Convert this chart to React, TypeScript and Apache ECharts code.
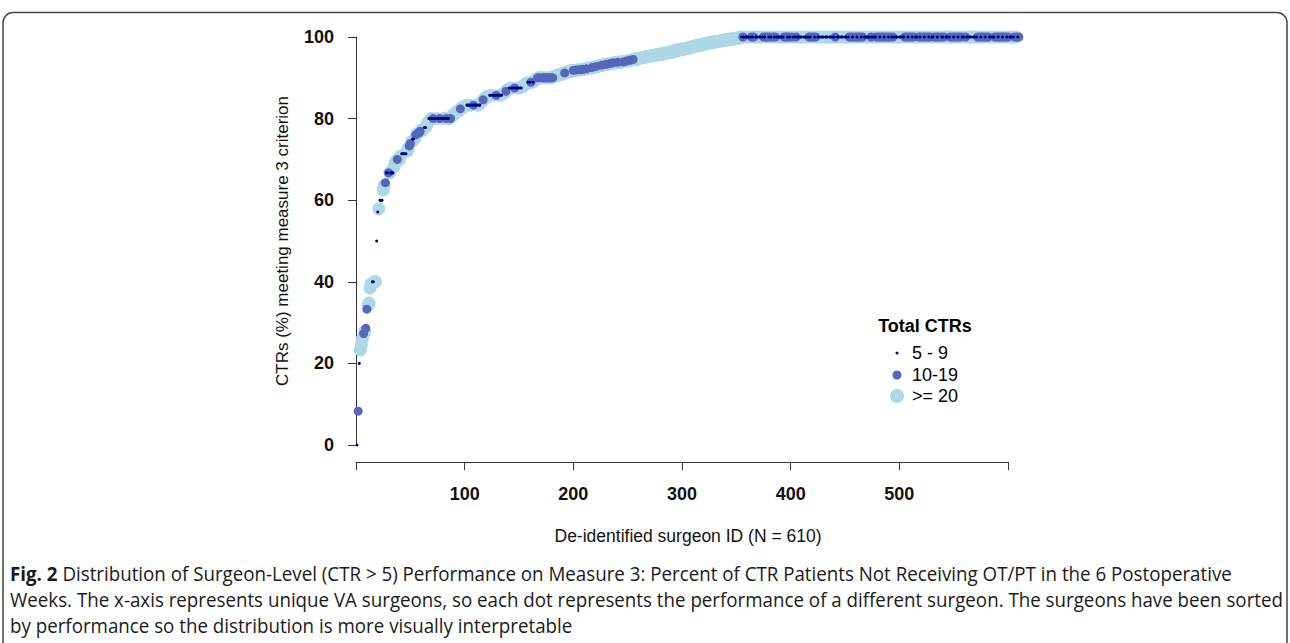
import React, { useEffect, useRef } from "react";
import * as echarts from "echarts";

// ---------- data ----------
const xTicks = [0, 100, 200, 300, 400, 500, 600];
const yTicks = [0, 20, 40, 60, 80, 100];
const legendTitle = "Total CTRs";
const legendLabels = ["5 - 9", "10-19", ">= 20"];
const categoryCodes = ["S", "M", "L"];

type Run = [number, number, string]; // value, count, category

// low part of the sorted curve (surgeons 1..192)
const runsLow: Run[] = [
  [0, 1, "S"], [8.3, 1, "M"], [20, 1, "S"], [23.3, 1, "L"], [24.6, 1, "L"],
  [26.1, 1, "L"], [27.3, 1, "M"], [27.8, 1, "L"], [28.6, 1, "M"], [33.3, 1, "M"],
  [34.2, 1, "L"], [34.8, 1, "L"], [38.5, 1, "L"], [39.5, 1, "L"], [40, 2, "S"],
  [40, 2, "L"], [50, 1, "S"], [57.1, 1, "S"], [57.9, 1, "L"], [60, 3, "S"],
  [62.5, 1, "L"], [63.6, 1, "L"], [64.3, 1, "M"], [66.7, 2, "S"], [66.7, 1, "M"],
  [66.7, 1, "L"], [66.7, 3, "S"], [68.2, 1, "L"], [69.2, 1, "L"], [69.6, 1, "L"],
  [70, 1, "M"], [70, 2, "L"], [70.8, 1, "L"], [71.4, 5, "S"], [72, 1, "L"],
  [72.7, 1, "L"], [73.3, 1, "M"], [73.9, 1, "M"], [74.3, 1, "L"], [75, 2, "S"],
  [75, 1, "L"], [76, 1, "M"], [76.2, 1, "L"], [76.5, 2, "M"], [76.9, 1, "M"],
  [77.1, 2, "L"], [77.4, 1, "L"], [77.8, 2, "S"], [78.3, 1, "L"], [79, 1, "L"],
  [80, 2, "S"], [80, 1, "L"], [80, 1, "S"], [80, 1, "M"], [80, 2, "S"],
  [80, 1, "L"], [80, 2, "S"], [80, 1, "M"], [80, 3, "S"], [80, 1, "L"],
  [80, 1, "S"], [80, 1, "M"], [80, 2, "S"], [80, 1, "L"], [80, 1, "M"],
  [80.5, 1, "L"], [80.8, 1, "L"], [81, 1, "L"], [81.2, 1, "L"], [81.5, 1, "L"],
  [81.7, 1, "L"], [81.9, 1, "L"], [82, 1, "L"], [82.4, 1, "M"], [82.5, 1, "L"],
  [82.7, 1, "L"], [82.9, 1, "L"], [83, 1, "L"], [83.2, 1, "L"],
  [83.3, 3, "S"], [83.3, 1, "L"], [83.3, 2, "S"], [83.3, 1, "M"], [83.3, 3, "S"],
  [83.3, 1, "L"], [83.3, 2, "S"], [83.8, 1, "L"], [84.2, 1, "L"], [84.6, 1, "M"],
  [84.8, 1, "L"], [85, 1, "L"], [85.2, 1, "L"], [85.4, 1, "L"], [85.5, 1, "L"],
  [85.7, 2, "S"], [85.7, 1, "L"], [85.7, 3, "S"], [85.7, 1, "M"], [85.7, 2, "S"],
  [85.7, 1, "L"], [85.7, 2, "S"], [86, 1, "L"], [86.2, 1, "L"], [86.4, 1, "L"],
  [86.7, 1, "M"], [87, 1, "L"], [87.2, 1, "L"],
  [87.5, 2, "S"], [87.5, 1, "L"], [87.5, 2, "S"], [87.5, 1, "M"], [87.5, 3, "S"],
  [87.5, 1, "L"], [87.5, 2, "S"], [87.8, 1, "L"], [88, 1, "L"], [88.2, 1, "L"],
  [88.4, 1, "L"], [88.6, 1, "L"],
  [88.9, 1, "S"], [88.9, 1, "L"], [88.9, 1, "S"], [88.9, 1, "M"], [88.9, 1, "L"],
  [88.9, 1, "S"], [89.2, 1, "L"], [89.5, 1, "L"], [89.7, 1, "L"],
  [90, 1, "M"], [90, 1, "L"], [90, 1, "M"], [90, 2, "L"], [90, 2, "M"],
  [90, 1, "L"], [90, 2, "M"], [90, 1, "L"], [90, 2, "M"], [90, 1, "L"],
  [90, 1, "M"], [90.3, 1, "L"], [90.4, 1, "L"], [90.5, 1, "L"], [90.6, 1, "L"],
  [90.7, 1, "L"], [90.8, 1, "L"], [90.9, 2, "L"], [91, 2, "L"], [91.2, 1, "M"],
];

// middle part (surgeons 193..256)
const runsMid: Run[] = [
  [91.3, 1, "L"], [91.4, 1, "L"], [91.5, 1, "L"], [91.6, 2, "L"], [91.7, 2, "L"],
  [91.8, 1, "M"], [91.8, 1, "L"], [91.9, 1, "M"], [91.9, 2, "L"], [92, 1, "M"],
  [92, 1, "L"], [92, 1, "M"], [92, 1, "L"], [92.1, 1, "M"], [92.1, 1, "L"],
  [92.2, 1, "L"], [92.2, 1, "M"], [92.3, 2, "L"], [92.4, 2, "L"], [92.5, 1, "M"],
  [92.5, 1, "L"], [92.6, 1, "L"], [92.7, 1, "L"], [92.8, 1, "M"], [92.8, 1, "L"],
  [92.9, 2, "L"], [93, 1, "L"], [93.1, 1, "M"], [93.1, 1, "L"], [93.2, 2, "L"],
  [93.3, 1, "M"], [93.3, 1, "L"], [93.4, 2, "L"], [93.5, 1, "M"], [93.5, 1, "L"],
  [93.6, 1, "L"], [93.7, 1, "M"], [93.7, 2, "L"], [93.8, 1, "L"], [93.8, 1, "M"],
  [93.8, 1, "L"], [93.9, 3, "L"], [93.9, 1, "M"], [94, 2, "L"], [94.1, 1, "M"],
  [94.1, 1, "L"], [94.2, 1, "L"], [94.3, 1, "M"], [94.3, 1, "L"], [94.4, 1, "L"],
  [94.5, 1, "M"], [94.5, 1, "L"],
];

// light-blue band (surgeons 257..353), all >= 20 CTRs
const runsBand: Run[] = [
  [94.6, 3, "L"], [94.8, 3, "L"], [95, 4, "L"], [95.2, 4, "L"], [95.4, 4, "L"],
  [95.6, 4, "L"], [95.8, 4, "L"], [96, 4, "L"], [96.2, 4, "L"], [96.5, 4, "L"],
  [96.8, 4, "L"], [97, 4, "L"], [97.2, 4, "L"], [97.5, 4, "L"], [97.8, 4, "L"],
  [98, 4, "L"], [98.3, 4, "L"], [98.5, 4, "L"], [98.7, 4, "L"], [98.9, 4, "L"],
  [99.1, 4, "L"], [99.3, 5, "L"], [99.5, 5, "L"], [99.7, 5, "L"],
];

// surgeons at 100% (354..610): category of each one
const hundredValue = 100;
const hundredCats: string[] = [
  "LSMSLSS",
  "SLSMSMLSSL", "SSLSMSMLMS", "MSLMSMSLSS", "LSSMLMSMSL", "MSLSMSSLSS",
  "LSSSLSMSML", "MSMLSSLSSS", "LSSSLSSLSS", "MLSSLSSSLS", "SLSMLMSMLM",
  "SMLMSMLSSS", "LSSMSLSSML", "MSMLMSMLMS", "MLSMSLSSLS", "SLSSMLMSML",
  "MSMLSSLMSM", "LMSMLMSMLS", "SMLMSMLMSS", "MLSSLSMLMS", "MLMSMLMSSL",
  "MSSLSSLSSL", "SMLMSMLMSM", "LMSSLSSMLM", "SMLMSMLMSM", "LSSLSMLMSM",
];

const captionBold = "Fig. 2";
const caption1 = "Distribution of Surgeon-Level (CTR > 5) Performance on Measure 3: Percent of CTR Patients Not Receiving OT/PT in the 6 Postoperative";
const caption2 = "Weeks. The x-axis represents unique VA surgeons, so each dot represents the performance of a different surgeon. The surgeons have been sorted";
const caption3 = "by performance so the distribution is more visually interpretable";

// ---------- build points ----------
function buildPoints(): Record<string, number[][]> {
  const out: Record<string, number[][]> = { S: [], M: [], L: [] };
  let idx = 1;
  for (const [v, n, c] of [...runsLow, ...runsMid, ...runsBand]) {
    for (let k = 0; k < n; k++) out[c].push([idx++, v]);
  }
  for (const c of hundredCats.join("")) out[c].push([idx++, hundredValue]);
  return out;
}

const COLORS: Record<string, string> = { S: "#00008B", M: "#5566BB", L: "#ADD8E6" };
const SIZES: Record<string, number> = { S: 3, M: 9, L: 13 };
const FONT = "'Liberation Sans', Arial, sans-serif";
const CAPTION_FAMILY = "'Open Sans', 'Noto Sans', sans-serif";
const CAPTION_SIZE = 20;

function measure(text: string, font: string): number {
  const cv = document.createElement("canvas");
  const ctx = cv.getContext("2d");
  if (!ctx) return text.length * 9;
  ctx.font = font;
  return ctx.measureText(text).width;
}

export default function App() {
  const ref = useRef<HTMLDivElement>(null);
  useEffect(() => {
    if (!ref.current) return;
    const chart = echarts.init(ref.current, undefined, { renderer: "svg" });
    const pts = buildPoints();
    const order = ["L", "M", "S"];
    const series = order.map((c, i) => ({
      type: "scatter",
      name: legendLabels[categoryCodes.indexOf(c)],
      data: pts[c],
      symbol: "circle",
      symbolSize: SIZES[c],
      itemStyle: { color: COLORS[c], opacity: 1 },
      clip: false,
      z: 2 + i,
      silent: true,
    }));
    const legendY = [353, 375, 396];
    const legendGraphics: any[] = [
      {
        type: "text", x: 925, y: 326,
        style: { text: legendTitle, font: `bold 18px ${FONT}`, fill: "#000", textAlign: "center", textVerticalAlign: "middle" },
      },
    ];
    categoryCodes.forEach((c, i) => {
      legendGraphics.push({
        type: "circle",
        shape: { cx: 897, cy: legendY[i], r: SIZES[c] / 2 + (c === "L" ? 0.5 : 0) },
        style: { fill: COLORS[c] },
      });
      legendGraphics.push({
        type: "text", x: 912, y: legendY[i],
        style: { text: legendLabels[i], font: `18px ${FONT}`, fill: "#000", textAlign: "left", textVerticalAlign: "middle" },
      });
    });
    // horizontal condensation of the caption font to match the narrow original typeface
    const w1 =
      measure(captionBold + " ", `bold ${CAPTION_SIZE}px ${CAPTION_FAMILY}`) +
      measure(caption1, `${CAPTION_SIZE}px ${CAPTION_FAMILY}`);
    const capScale = Math.min(1.2, 1222 / w1);
    chart.setOption({
      animation: false,
      backgroundColor: "#fff",
      grid: { left: 356, top: 37, width: 652, height: 408, containLabel: false },
      xAxis: {
        type: "value", min: xTicks[0], max: xTicks[xTicks.length - 1], interval: 100,
        offset: 17,
        axisLine: { show: true, onZero: false, lineStyle: { color: "#333", width: 1 } },
        axisTick: { show: true, length: 8, lineStyle: { color: "#333" } },
        axisLabel: {
          formatter: (v: number) => (v === xTicks[0] || v === xTicks[xTicks.length - 1] ? "" : String(v)),
          fontFamily: FONT, fontWeight: "bold", fontSize: 18, color: "#111", margin: 23,
        },
        splitLine: { show: false },
        name: "De-identified surgeon ID (N = 610)",
        nameLocation: "middle", nameGap: 65,
        nameTextStyle: { fontFamily: FONT, fontSize: 17.5, color: "#111", padding: [0, 0, 0, 12] },
      },
      yAxis: {
        type: "value", min: yTicks[0], max: yTicks[yTicks.length - 1], interval: 20,
        axisLine: { show: true, lineStyle: { color: "#333", width: 1 } },
        axisTick: { show: true, length: 8, lineStyle: { color: "#333" } },
        axisLabel: { fontFamily: FONT, fontWeight: "bold", fontSize: 18, color: "#111", margin: 22 },
        splitLine: { show: false },
        name: "CTRs (%) meeting measure 3 criterion",
        nameLocation: "middle", nameGap: 65,
        nameTextStyle: { fontFamily: FONT, fontSize: 17, color: "#111" },
      },
      series,
      graphic: [
        {
          type: "rect", shape: { x: 3, y: 12.5, width: 1284, height: 720, r: 10 },
          style: { fill: "none", stroke: "#444", lineWidth: 1.5 }, silent: true,
        },
        ...legendGraphics,
        {
          type: "text", x: 10, y: 560, scaleX: capScale,
          style: {
            text: `{b|${captionBold}} ${caption1}\n${caption2}\n${caption3}`,
            font: `${CAPTION_SIZE}px ${CAPTION_FAMILY}`, fill: "#1a1a1a", lineHeight: 26,
            rich: { b: { fontFamily: CAPTION_FAMILY, fontWeight: "bold", fontSize: CAPTION_SIZE, fill: "#1a1a1a", lineHeight: 26 } },
          },
        },
      ],
    });
    return () => chart.dispose();
  }, []);
  return (
    <div
      ref={ref}
      style={{ position: "absolute", left: 0, top: 0, width: 1290, height: 643 }}
    />
  );
}
